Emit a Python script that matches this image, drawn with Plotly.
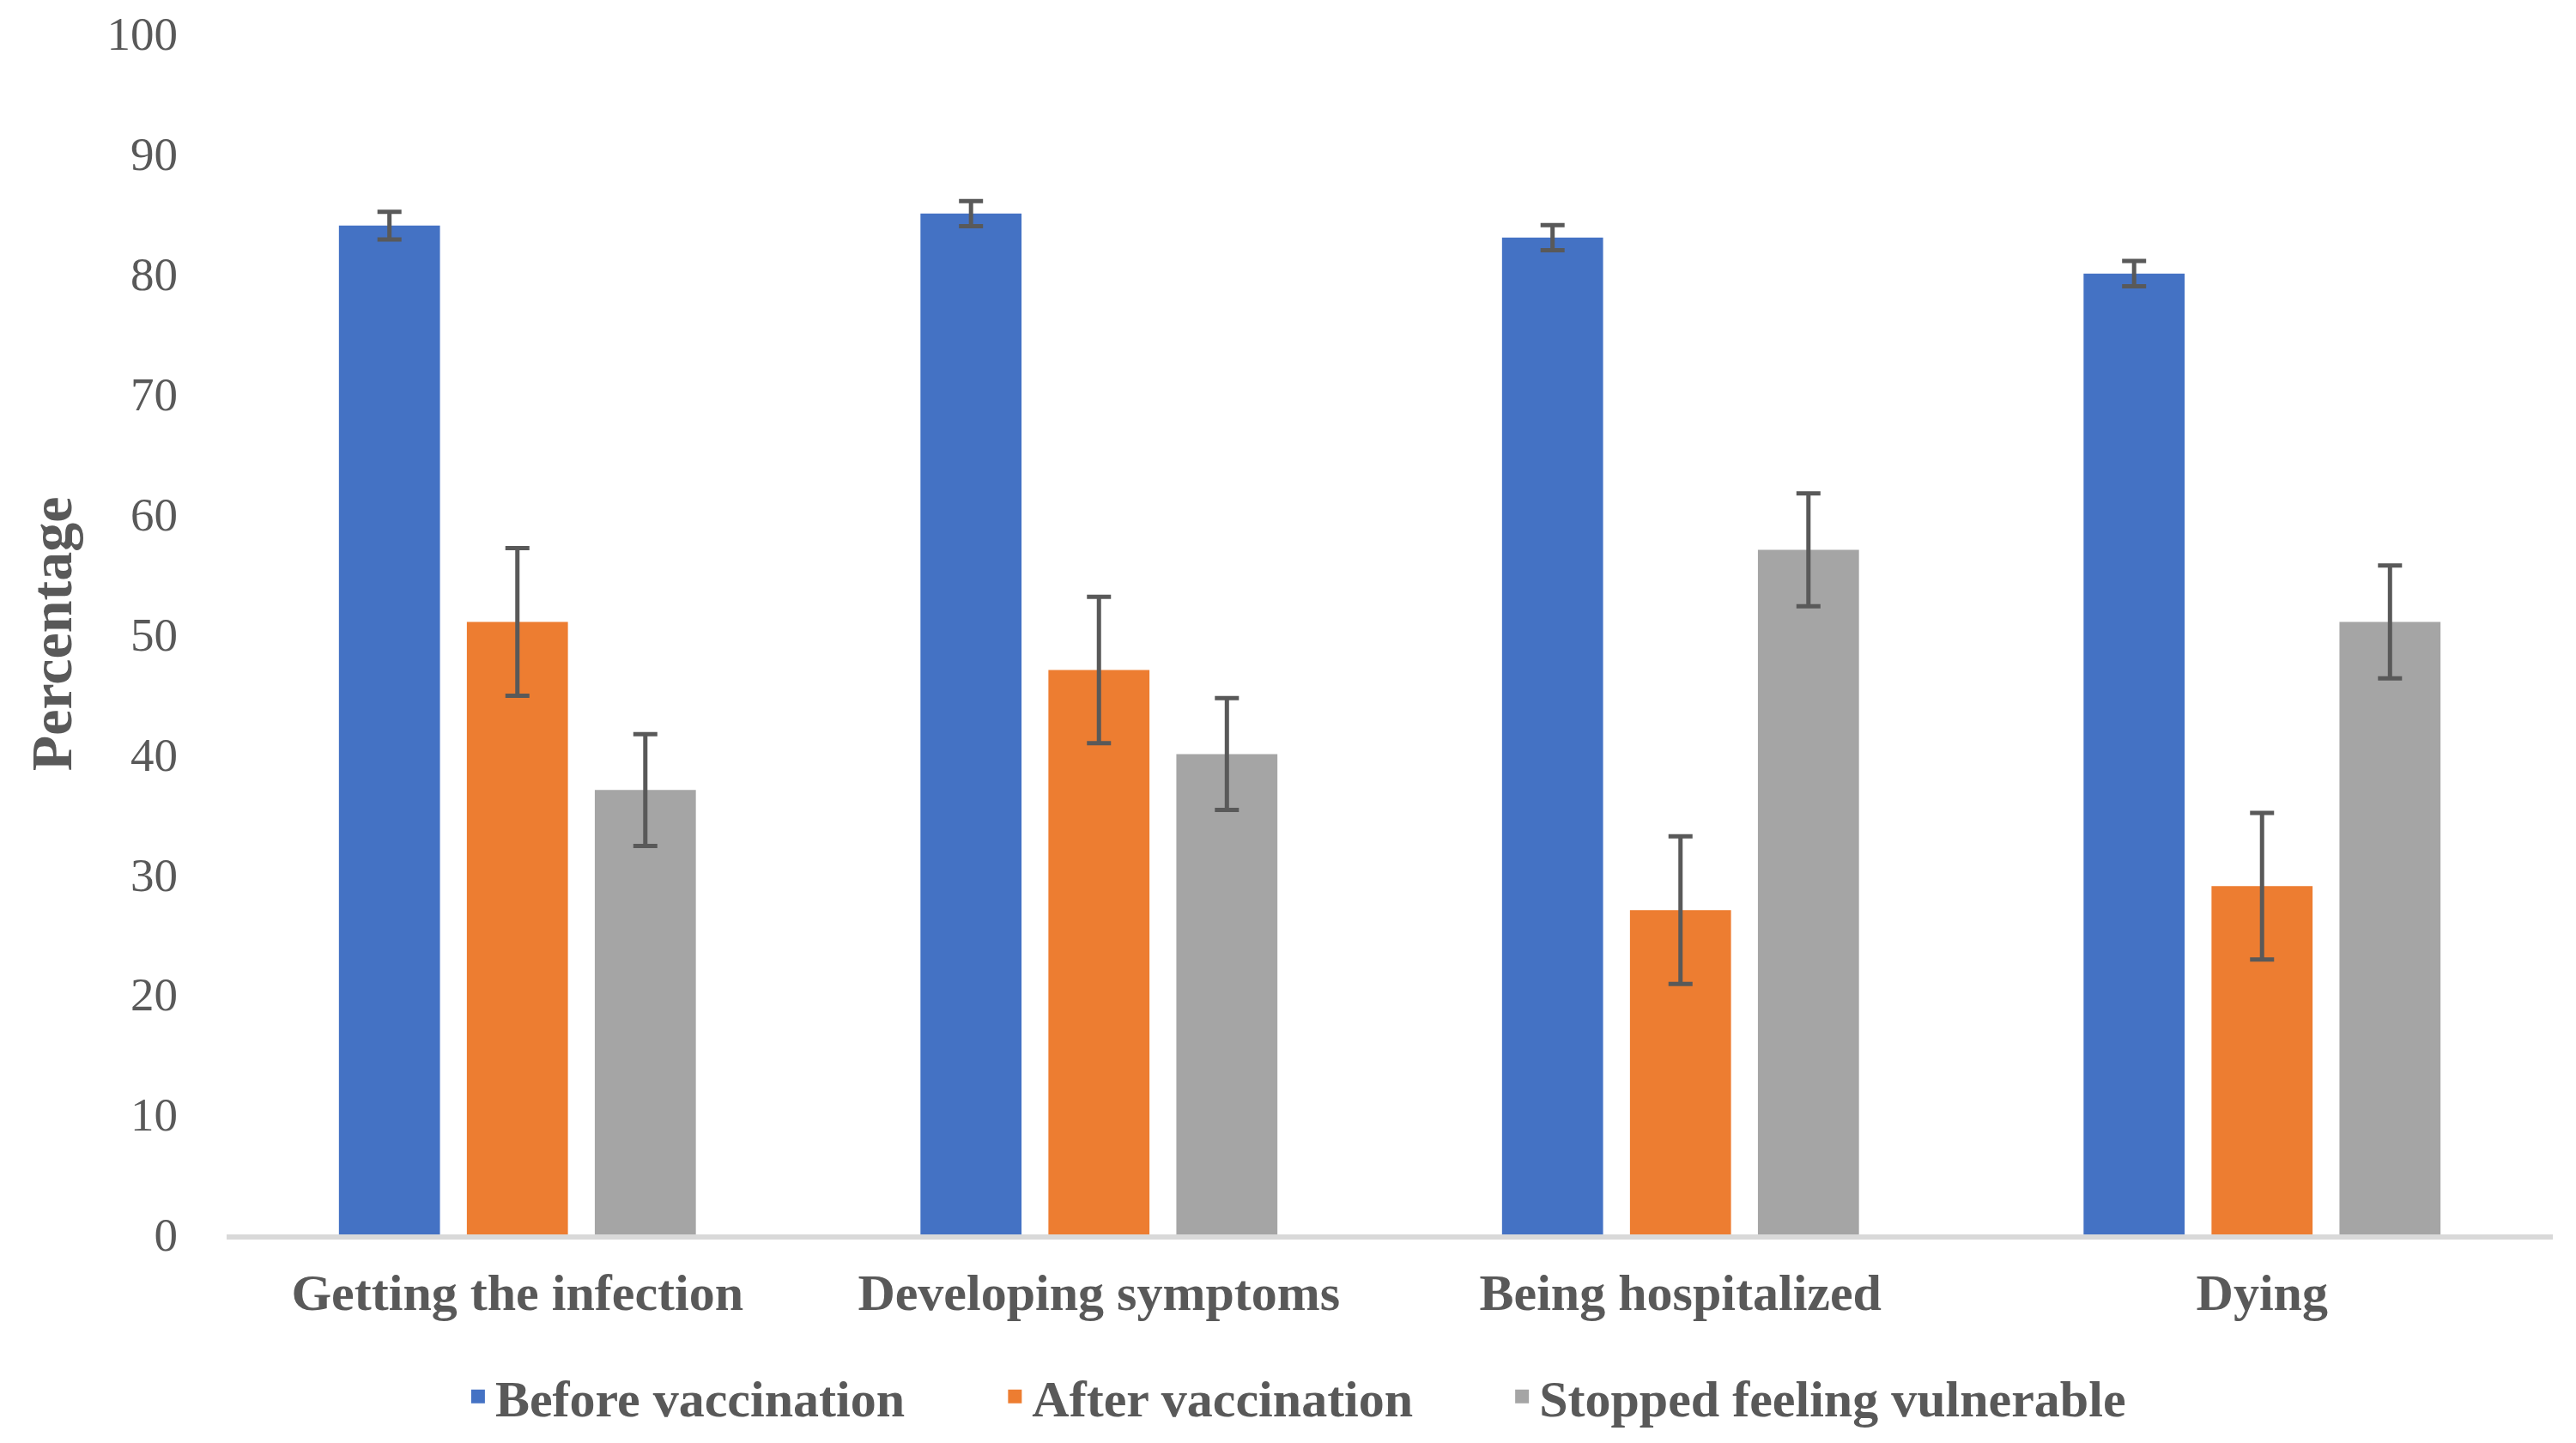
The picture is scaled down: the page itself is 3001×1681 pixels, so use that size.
import plotly.graph_objects as go

categories = ["Getting the infection", "Developing symptoms", "Being hospitalized", "Dying"]
series_names = ["Before vaccination", "After vaccination", "Stopped feeling vulnerable"]
before_vals = [84, 85, 83, 80]
before_err = [1.15, 1.05, 1.05, 1.05]
after_vals = [51, 47, 27, 29]
after_err = [6.15, 6.1, 6.15, 6.1]
stopped_vals = [37, 40, 57, 51]
stopped_err = [4.65, 4.65, 4.7, 4.7]
y_ticks = [0, 10, 20, 30, 40, 50, 60, 70, 80, 90, 100]

colors = ["#4472C4", "#ED7D31", "#A5A5A5"]
legend_ids = ["legend", "legend2", "legend3"]
legend_x = [0.1007, 0.3315, 0.5495]
FONT = "Liberation Serif, Times New Roman, serif"
TXT = "#595959"

fig = go.Figure()
for name, vals, errs, col in zip(series_names,
                                 [before_vals, after_vals, stopped_vals],
                                 [before_err, after_err, stopped_err],
                                 colors):
    fig.add_trace(go.Bar(
        x=categories, y=vals, name=name, showlegend=False,
        marker=dict(color=col, line=dict(width=0)),
        error_y=dict(type="data", array=errs, visible=True,
                     color="#595959", thickness=5, width=14),
    ))

# legend entries (square swatches)
for name, col, lid in zip(series_names, colors, legend_ids):
    fig.add_trace(go.Scatter(
        x=[None], y=[None], mode="markers", name=name, legend=lid,
        marker=dict(symbol="square", size=30, color=col), showlegend=True,
    ))

legend_common = dict(orientation="h", xanchor="left", y=-0.135, yanchor="middle",
                     font=dict(family=FONT, size=60, color=TXT, weight="bold"),
                     bgcolor="rgba(0,0,0,0)", itemsizing="trace")

fig.update_layout(
    width=3001, height=1681,
    margin=dict(l=256, r=35, t=31, b=251),
    paper_bgcolor="white", plot_bgcolor="white",
    barmode="group", bargap=0.34, bargroupgap=0.21,
    font=dict(family=FONT, color=TXT, size=55),
    showlegend=True,
    legend=dict(x=legend_x[0], **legend_common),
    legend2=dict(x=legend_x[1], **legend_common),
    legend3=dict(x=legend_x[2], **legend_common),
    xaxis=dict(
        automargin=False,
        showline=True, linecolor="#D9D9D9", linewidth=6,
        showgrid=False, zeroline=False,
        ticks="outside", ticklen=10, tickcolor="rgba(0,0,0,0)",
        tickfont=dict(family=FONT, size=60, color=TXT, weight="bold"),
    ),
    yaxis=dict(
        automargin=False,
        range=[0, 100], tickvals=y_ticks,
        showline=False, showgrid=False, zeroline=False,
        ticks="outside", ticklen=45, tickcolor="rgba(0,0,0,0)",
        ticklabeloverflow="allow",
        tickfont=dict(family=FONT, size=55, color=TXT),
        title=dict(text="Percentage", standoff=18,
                   font=dict(family=FONT, size=68, color=TXT, weight="bold")),
    ),
)

fig.write_html("out.html")
